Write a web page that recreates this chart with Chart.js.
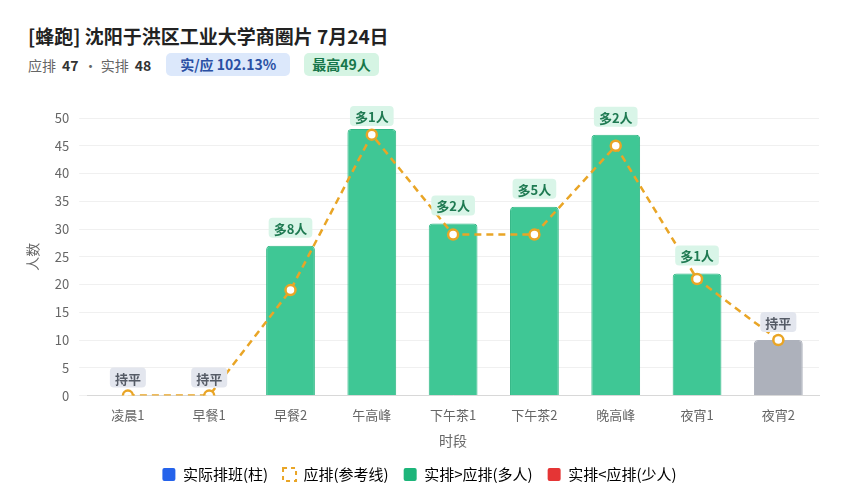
<!DOCTYPE html>
<html>
<head>
<meta charset="utf-8">
<script src="https://cdn.jsdelivr.net/npm/chart.js@4.4.1/dist/chart.umd.min.js"></script>
<style>
    html, body { margin: 0; padding: 0; background: #fff; }
    body { width: 849px; height: 500px; overflow: hidden; font-family: "Noto Sans CJK SC", "Noto Sans", sans-serif; }
    .head { position: absolute; left: 28px; top: 23px; }
    .title { font-size: 19px; font-weight: 700; color: #222; line-height: 26px; }
    .sub { margin-top: 4px; font-size: 14px; color: #666; display: flex; align-items: center; height: 23px; }
    .sub b { color: #333; margin: 0 5px 0 6px; }
    .pill { display: inline-block; height: 23px; line-height: 23px; border-radius: 5px; font-weight: 700; font-size: 14px; }
    .pill.blue { background: #dce8fb; color: #2a4fa3; margin-left: 10px; padding: 0 14px; }
    .pill.green { background: #d5f4e3; color: #17774a; margin-left: 14px; padding: 0 8px; }
    #wrap { position: absolute; left: 0; top: 90px; width: 849px; height: 410px; }
</style>
</head>
<body>
<div class="head">
    <div class="title">[蜂跑] 沈阳于洪区工业大学商圈片 7月24日</div>
    <div class="sub">应排<b>47</b>· 实排<b>48</b><span class="pill blue">实/应 102.13%</span><span class="pill green">最高49人</span></div>
</div>
<div id="wrap"><canvas id="chart"></canvas></div>
<script>
    const periods = ['凌晨1', '早餐1', '早餐2', '午高峰', '下午茶1', '下午茶2', '晚高峰', '夜宵1', '夜宵2'];
    const actualCounts = [0, 0, 27, 48, 31, 34, 47, 22, 10];
    const plannedCounts = [0, 0, 19, 47, 29, 29, 45, 21, 10];
    const yTicks = [0, 5, 10, 15, 20, 25, 30, 35, 40, 45, 50];

    const GREEN = '#3fc795';
    const RED = '#e84545';
    const GRAY = '#adb1bb';
    const ORANGE = '#e9a526';

    function barColor(i) {
        const diff = actualCounts[i] - plannedCounts[i];
        if (diff > 0) return GREEN;
        if (diff < 0) return RED;
        return GRAY;
    }

    function roundRect(ctx, x, y, w, h, r) {
        ctx.beginPath();
        ctx.moveTo(x + r, y);
        ctx.lineTo(x + w - r, y);
        ctx.quadraticCurveTo(x + w, y, x + w, y + r);
        ctx.lineTo(x + w, y + h - r);
        ctx.quadraticCurveTo(x + w, y + h, x + w - r, y + h);
        ctx.lineTo(x + r, y + h);
        ctx.quadraticCurveTo(x, y + h, x, y + h - r);
        ctx.lineTo(x, y + r);
        ctx.quadraticCurveTo(x, y, x + r, y);
        ctx.closePath();
    }

    // diff badges above each period
    const diffLabels = {
        id: 'diffLabels',
        afterDatasetsDraw(chart) {
            const ctx = chart.ctx;
            const yScale = chart.scales.y;
            const xScale = chart.scales.x;
            ctx.save();
            ctx.font = 'bold 13px "Noto Sans CJK SC"';
            ctx.textAlign = 'center';
            ctx.textBaseline = 'middle';
            periods.forEach((p, i) => {
                const diff = actualCounts[i] - plannedCounts[i];
                let text, bg, fg;
                if (diff > 0) { text = '多' + diff + '人'; bg = '#d9f5e8'; fg = '#1f7a52'; }
                else if (diff < 0) { text = '少' + (-diff) + '人'; bg = '#fde0e0'; fg = '#b42828'; }
                else { text = '持平'; bg = '#e3e6ee'; fg = '#555b66'; }
                const top = yScale.getPixelForValue(Math.max(actualCounts[i], plannedCounts[i]));
                const cx = xScale.getPixelForValue(i);
                const cy = Math.max(top - 18, chart.chartArea.top - 2);
                const w = ctx.measureText(text).width + 10;
                ctx.fillStyle = bg;
                roundRect(ctx, cx - w / 2, cy - 10, w, 20, 4);
                ctx.fill();
                ctx.fillStyle = fg;
                ctx.fillText(text, cx, cy + 1);
            });
            ctx.restore();
        }
    };

    new Chart(document.getElementById('chart'), {
        data: {
            labels: periods,
            datasets: [
                {
                    type: 'line',
                    label: '应排(参考线)',
                    data: plannedCounts,
                    borderColor: ORANGE,
                    borderWidth: 2.5,
                    borderDash: [7, 5],
                    pointRadius: 5,
                    pointBorderWidth: 2.5,
                    pointBackgroundColor: '#fff',
                    pointBorderColor: ORANGE,
                    tension: 0,
                    order: 0
                },
                {
                    type: 'bar',
                    label: '实际排班(柱)',
                    data: actualCounts,
                    backgroundColor: periods.map((p, i) => barColor(i)),
                    borderColor: periods.map((p, i) => barColor(i) === GREEN ? '#33b886' : barColor(i)),
                    borderWidth: 1,
                    borderSkipped: 'bottom',
                    borderRadius: { topLeft: 4, topRight: 4 },
                    barPercentage: 0.6,
                    categoryPercentage: 1,
                    order: 1
                }
            ]
        },
        options: {
            responsive: true,
            maintainAspectRatio: false,
            animation: false,
            layout: { padding: { left: 20, right: 30, top: 28, bottom: 8 } },
            scales: {
                x: {
                    grid: { display: false },
                    border: { color: '#d8d8d8' },
                    ticks: { color: '#666', font: { size: 13, family: 'Noto Sans CJK SC' }, padding: 4 },
                    title: { display: true, text: '时段', color: '#666', font: { size: 14, family: 'Noto Sans CJK SC' }, padding: { top: 5, bottom: 3 } }
                },
                y: {
                    min: 0,
                    max: 50,
                    afterBuildTicks(axis) { axis.ticks = yTicks.map(v => ({ value: v })); },
                    grid: { color: '#f0f0f0' },
                    border: { display: false },
                    ticks: { color: '#666', font: { size: 13, family: 'Noto Sans CJK SC' }, padding: 10 },
                    title: { display: true, text: '人数', color: '#666', font: { size: 14, family: 'Noto Sans CJK SC' } }
                }
            },
            plugins: {
                tooltip: { enabled: false },
                legend: {
                    position: 'bottom',
                    labels: {
                        boxWidth: 13,
                        boxHeight: 13,
                        padding: 15,
                        color: '#555',
                        font: { size: 15, family: 'Noto Sans CJK SC' },
                        generateLabels() {
                            return [
                                { text: '实际排班(柱)', fillStyle: '#2563eb', strokeStyle: '#2563eb', lineWidth: 0, borderRadius: 2, datasetIndex: 1 },
                                { text: '应排(参考线)', fillStyle: '#fff', strokeStyle: ORANGE, lineWidth: 2, lineDash: [4, 4], datasetIndex: 0 },
                                { text: '实排>应排(多人)', fillStyle: '#1db57a', strokeStyle: '#1db57a', lineWidth: 0, borderRadius: 2 },
                                { text: '实排<应排(少人)', fillStyle: '#e53535', strokeStyle: '#e53535', lineWidth: 0, borderRadius: 2 }
                            ];
                        }
                    },
                    onClick() {}
                }
            }
        },
        plugins: [diffLabels]
    });
</script>
</body>
</html>
